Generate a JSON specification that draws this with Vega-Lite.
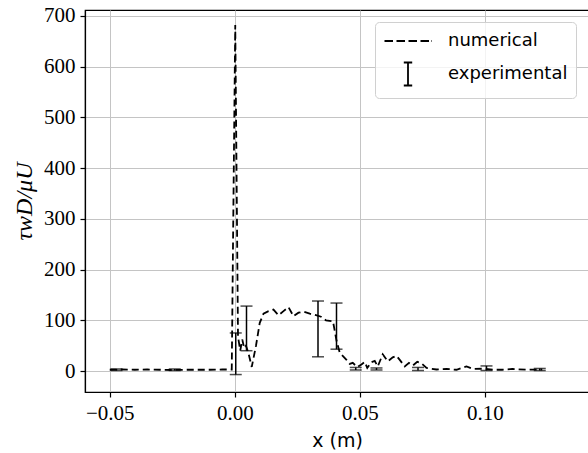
{
  "$schema": "https://vega.github.io/schema/vega-lite/v6.json",
  "width": 504,
  "height": 382,
  "autosize": {"type": "none"},
  "padding": {"left": 85, "top": 10, "right": 0, "bottom": 61},
  "background": "white",
  "config": {
    "view": {"stroke": "black", "strokeWidth": 1.2},
    "axis": {
      "domainColor": "black", "domainWidth": 1.2,
      "tickColor": "black", "tickWidth": 1.2, "tickSize": 5,
      "gridColor": "#c4c4c4", "gridWidth": 1,
      "labelColor": "black", "labelFont": "Liberation Serif", "labelFontSize": 21,
      "titleColor": "black", "titleFontWeight": "normal"
    }
  },
  "datasets": {
    "num": [
      {"x": -0.050, "y": 2.5}, {"x": -0.045, "y": 3}, {"x": -0.040, "y": 2.5}, {"x": -0.035, "y": 3},
      {"x": -0.030, "y": 2.5}, {"x": -0.025, "y": 2}, {"x": -0.020, "y": 2.5}, {"x": -0.015, "y": 2.5},
      {"x": -0.010, "y": 2.5}, {"x": -0.005, "y": 3}, {"x": -0.0012, "y": 3},
      {"x": 0.0002, "y": 682}, {"x": 0.0013, "y": 68}, {"x": 0.0022, "y": 40}, {"x": 0.0030, "y": 62},
      {"x": 0.0038, "y": 45}, {"x": 0.0045, "y": 50}, {"x": 0.0055, "y": 35}, {"x": 0.0068, "y": 8},
      {"x": 0.0085, "y": 50}, {"x": 0.0100, "y": 95}, {"x": 0.0115, "y": 113}, {"x": 0.0135, "y": 118},
      {"x": 0.0155, "y": 121}, {"x": 0.0175, "y": 110}, {"x": 0.0195, "y": 118}, {"x": 0.0215, "y": 126},
      {"x": 0.0235, "y": 108}, {"x": 0.0255, "y": 115}, {"x": 0.0275, "y": 117}, {"x": 0.0300, "y": 113},
      {"x": 0.0325, "y": 110}, {"x": 0.0345, "y": 107}, {"x": 0.0365, "y": 100}, {"x": 0.0393, "y": 98},
      {"x": 0.0407, "y": 60}, {"x": 0.0420, "y": 36}, {"x": 0.0447, "y": 22}, {"x": 0.0460, "y": 14},
      {"x": 0.0472, "y": 16}, {"x": 0.0490, "y": 8}, {"x": 0.0507, "y": 13}, {"x": 0.0520, "y": 18},
      {"x": 0.0530, "y": 6}, {"x": 0.0545, "y": 17}, {"x": 0.0560, "y": 20}, {"x": 0.0572, "y": 9},
      {"x": 0.0592, "y": 33}, {"x": 0.0612, "y": 19}, {"x": 0.0632, "y": 27}, {"x": 0.0647, "y": 30},
      {"x": 0.0660, "y": 22}, {"x": 0.0680, "y": 9}, {"x": 0.0697, "y": 16}, {"x": 0.0713, "y": 11},
      {"x": 0.0730, "y": 18}, {"x": 0.0747, "y": 15}, {"x": 0.0767, "y": 6}, {"x": 0.0807, "y": 3},
      {"x": 0.0847, "y": 4}, {"x": 0.0887, "y": 2.5}, {"x": 0.0927, "y": 9}, {"x": 0.0953, "y": 4},
      {"x": 0.0993, "y": 4.5}, {"x": 0.1033, "y": 2.5}, {"x": 0.1070, "y": 2.5}, {"x": 0.1110, "y": 4},
      {"x": 0.1170, "y": 2.5}, {"x": 0.1230, "y": 3}
    ],
    "exp": [
      {"x": -0.0473, "lo": 1, "hi": 4},
      {"x": -0.0240, "lo": 1, "hi": 4},
      {"x": 0.0004, "lo": -7, "hi": 75},
      {"x": 0.0047, "lo": 40, "hi": 128},
      {"x": 0.0333, "lo": 28, "hi": 138},
      {"x": 0.0407, "lo": 43, "hi": 134},
      {"x": 0.0484, "lo": 2, "hi": 7},
      {"x": 0.0567, "lo": 2, "hi": 6},
      {"x": 0.0733, "lo": 1, "hi": 7},
      {"x": 0.1007, "lo": 1, "hi": 10},
      {"x": 0.1220, "lo": 1, "hi": 5}
    ],
    "leg": [{"series": "numerical"}, {"series": "experimental"}]
  },
  "layer": [
    {
      "data": {"name": "num"},
      "mark": {"type": "line", "color": "black", "strokeWidth": 1.8, "strokeDash": [7, 4]},
      "encoding": {
        "x": {"field": "x", "type": "quantitative",
          "scale": {"domain": [-0.0599, 0.1417], "nice": false, "zero": false},
          "axis": {"values": [-0.05, 0, 0.05, 0.1], "format": ".2f", "title": "x (m)",
            "titleFont": "DejaVu Sans", "titleFontSize": 19, "labelPadding": 5, "titlePadding": 8}},
        "y": {"field": "y", "type": "quantitative",
          "scale": {"domain": [-41.4, 711.8], "nice": false, "zero": false},
          "axis": {"values": [0, 100, 200, 300, 400, 500, 600, 700], "title": "τwD/μU",
            "titleFont": "Liberation Serif", "titleFontStyle": "italic", "titleFontSize": 24,
            "labelPadding": 5, "titlePadding": 7}}
      }
    },
    {
      "data": {"name": "exp"},
      "mark": {"type": "errorbar", "color": "black", "thickness": 1.5, "ticks": {"size": 12, "thickness": 1.5, "color": "black"}},
      "encoding": {
        "x": {"field": "x", "type": "quantitative", "axis": {"title": "x (m)"}},
        "y": {"field": "lo", "type": "quantitative", "axis": {"title": "τwD/μU"}},
        "y2": {"field": "hi"}
      }
    },
    {
      "data": {"name": "leg"},
      "mark": {"type": "point", "opacity": 0},
      "encoding": {
        "shape": {
          "field": "series", "type": "nominal",
          "scale": {
            "domain": ["numerical", "experimental"],
            "range": [
              "M-2.35,0H-1.5M-1.15,0H-0.3M0.05,0H0.9M1.25,0H2.1M2.3,0H2.35",
              "M-0.42,-1.15H0.42M0,-1.15V1.15M-0.42,1.15H0.42"
            ]
          },
          "legend": {
            "orient": "none", "legendX": 290, "legendY": 12, "title": null,
            "symbolSize": 400, "symbolStrokeColor": "black", "symbolFillColor": "transparent",
            "symbolStrokeWidth": 1.8, "symbolOpacity": 1,
            "labelFont": "DejaVu Sans", "labelFontSize": 18, "labelColor": "black",
            "padding": 8, "rowPadding": 8, "symbolOffset": 14, "labelOffset": 29,
            "strokeColor": "#d0d0d0", "fillColor": "rgba(255,255,255,0.8)", "cornerRadius": 4
          }
        }
      }
    }
  ]
}
